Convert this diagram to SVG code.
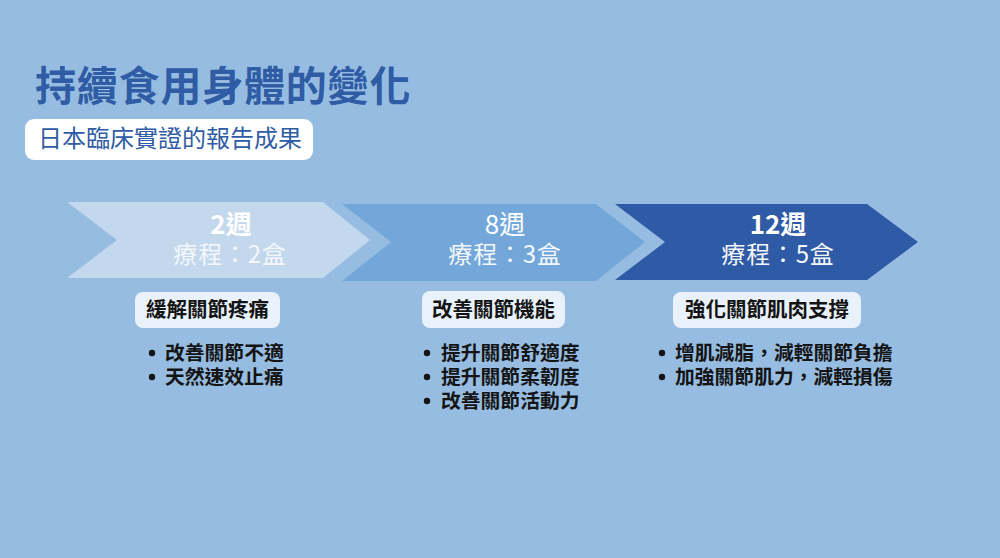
<svg xmlns="http://www.w3.org/2000/svg" width="1000" height="558" viewBox="0 0 1000 558">
<style>
text { font-family: "Noto Sans CJK TC", "Noto Sans CJK SC", "Noto Sans", sans-serif; }
.title { font-size: 41px; font-weight: 700; fill: #2f5ca4; letter-spacing: 0.8px; }
.sub { font-size: 24px; font-weight: 400; fill: #2f5ca4; }
.wk { font-size: 26px; fill: #ffffff; text-anchor: middle; }
.course { font-size: 24px; fill: #f4f8fc; text-anchor: middle; letter-spacing: 0.8px; }
.lbox { fill: #e9f2fb; }
.ltext { font-size: 20.5px; font-weight: 700; fill: #141414; text-anchor: middle; }
.bul { font-size: 19.8px; font-weight: 700; fill: #141414; }
.dot { fill: #141414; }
</style>
<rect x="0" y="0" width="1000" height="558" fill="#96bde1"/>

<g id="title">
<text class="title" x="35" y="101">持續食用身體的變化</text>
</g>
<g id="subtitle">
<rect x="25" y="119" width="288" height="41" rx="9" fill="#ffffff"/>
<text class="sub" x="38" y="147">日本臨床實證的報告成果</text>
</g>

<g id="step1">
<polygon points="67,202 323,202 370,240 323,278 67,278 117,240" fill="#c3d7ed"/>
<text class="wk" x="231" y="234" font-weight="700">2週</text>
<text class="course" x="230" y="263">療程：2盒</text>
<rect class="lbox" x="135" y="292" width="145" height="36" rx="8"/>
<text class="ltext" x="207.5" y="317">緩解關節疼痛</text>
<circle class="dot" cx="152" cy="353" r="3.2"/>
<text class="bul" x="165" y="360">改善關節不適</text>
<circle class="dot" cx="152" cy="377" r="3.2"/>
<text class="bul" x="165" y="384">天然速效止痛</text>
</g>

<g id="step2">
<polygon points="342,204 596,204 645,242 596,281 342,281 391,242" fill="#73a7d9"/>
<text class="wk" x="505" y="234" font-weight="400">8週</text>
<text class="course" x="505" y="263">療程：3盒</text>
<rect class="lbox" x="422" y="291" width="143" height="37" rx="8"/>
<text class="ltext" x="493.5" y="317">改善關節機能</text>
<circle class="dot" cx="427" cy="353" r="3.2"/>
<text class="bul" x="441" y="360">提升關節舒適度</text>
<circle class="dot" cx="427" cy="377" r="3.2"/>
<text class="bul" x="441" y="384">提升關節柔韌度</text>
<circle class="dot" cx="427" cy="401" r="3.2"/>
<text class="bul" x="441" y="408">改善關節活動力</text>
</g>

<g id="step3">
<polygon points="615,204 867,204 918,242 867,280 615,280 665,242" fill="#2f5aa5"/>
<text class="wk" x="778" y="234" font-weight="700">12週</text>
<text class="course" x="778" y="263">療程：5盒</text>
<rect class="lbox" x="673" y="292" width="188" height="36" rx="8"/>
<text class="ltext" x="767" y="317">強化關節肌肉支撐</text>
<circle class="dot" cx="662" cy="353" r="3.2"/>
<text class="bul" x="675" y="360">增肌減脂，減輕關節負擔</text>
<circle class="dot" cx="662" cy="377" r="3.2"/>
<text class="bul" x="675" y="384">加強關節肌力，減輕損傷</text>
</g>

<g id="connectors"></g>
</svg>
